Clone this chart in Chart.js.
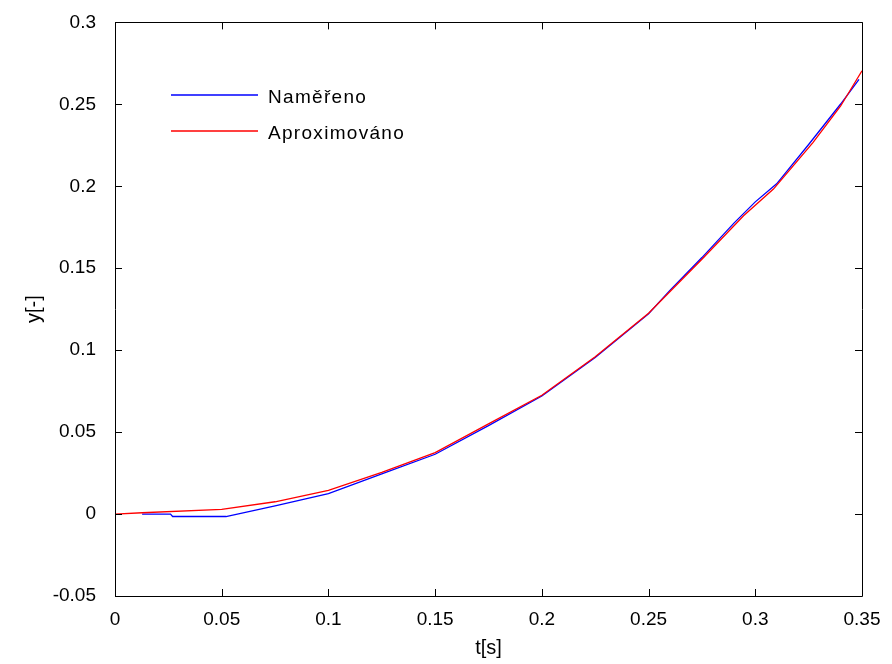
<!DOCTYPE html>
<html>
<head>
<meta charset="utf-8">
<script src="https://cdn.jsdelivr.net/npm/chart.js@4"></script>
<style>
  html, body { margin: 0; padding: 0; background: #fff; }
  #wrap { width: 892px; height: 664px; }
</style>
</head>
<body>
<div id="wrap"><canvas id="c" width="892" height="664"></canvas></div>
<script>
// measured response (blue)
const tMeas = [0.0127, 0.026, 0.027, 0.052, 0.075, 0.1, 0.125, 0.15, 0.175, 0.2, 0.225, 0.25, 0.26, 0.275, 0.29, 0.3, 0.31, 0.325, 0.34, 0.3486];
const yMeas = [0, 0, -0.0015, -0.0015, 0.005, 0.0125, 0.0245, 0.0365, 0.054, 0.072, 0.0955, 0.1222, 0.1365, 0.1565, 0.1775, 0.1905, 0.2015, 0.2255, 0.2502, 0.2652];

// approximation (red)
const tApprox = [0, 0.0127, 0.05, 0.075, 0.1, 0.125, 0.15, 0.175, 0.2, 0.225, 0.25, 0.275, 0.2945, 0.3085, 0.327, 0.34, 0.35];
const yApprox = [0, 0.0008, 0.0028, 0.0075, 0.0145, 0.0255, 0.0375, 0.055, 0.0725, 0.096, 0.1225, 0.1555, 0.182, 0.1983, 0.2266, 0.249, 0.2705];

const xTicks = [0, 0.05, 0.1, 0.15, 0.2, 0.25, 0.3, 0.35];
const yTicks = [-0.05, 0, 0.05, 0.1, 0.15, 0.2, 0.25, 0.3];

const seriesNames = ['Naměřeno', 'Aproximováno'];
const seriesColors = ['#0000ff', '#ff0000'];

const fmt = v => String(Number(v.toFixed(3)));
const toPts = (xs, ys) => xs.map((x, i) => ({ x, y: ys[i] }));

// MATLAB style box with inward ticks and legend inside the axes
const boxPlugin = {
  id: 'box',
  afterDatasetsDraw(chart) {
    const { ctx, chartArea: a, scales } = chart;
    ctx.save();
    ctx.strokeStyle = '#000';
    ctx.lineWidth = 1;
    ctx.beginPath();
    ctx.rect(Math.round(a.left) + 0.5, Math.round(a.top) + 0.5, Math.round(a.right - a.left), Math.round(a.bottom - a.top));
    const len = 7;
    xTicks.forEach(v => {
      const px = Math.round(scales.x.getPixelForValue(v)) + 0.5;
      ctx.moveTo(px, a.bottom); ctx.lineTo(px, a.bottom - len);
      ctx.moveTo(px, a.top); ctx.lineTo(px, a.top + len);
    });
    yTicks.forEach(v => {
      const py = Math.round(scales.y.getPixelForValue(v)) + 0.5;
      ctx.moveTo(a.left, py); ctx.lineTo(a.left + len, py);
      ctx.moveTo(a.right, py); ctx.lineTo(a.right - len, py);
    });
    ctx.stroke();

    // legend
    ctx.font = '19px "Liberation Sans", Arial, sans-serif';
    ctx.letterSpacing = '1.3px';
    ctx.textBaseline = 'middle';
    ctx.fillStyle = '#000';
    [95, 131].forEach((y, i) => {
      ctx.strokeStyle = seriesColors[i];
      ctx.lineWidth = 1.3;
      ctx.beginPath();
      ctx.moveTo(171, y); ctx.lineTo(258, y);
      ctx.stroke();
      ctx.fillText(seriesNames[i], 268, y + 3);
    });
    ctx.restore();
  }
};

new Chart(document.getElementById('c'), {
  type: 'line',
  data: {
    datasets: [
      { label: seriesNames[1], data: toPts(tApprox, yApprox), borderColor: seriesColors[1], borderWidth: 1.3, pointRadius: 0, fill: false, tension: 0, order: 0 },
      { label: seriesNames[0], data: toPts(tMeas, yMeas), borderColor: seriesColors[0], borderWidth: 1.3, pointRadius: 0, fill: false, tension: 0, order: 1 }
    ]
  },
  options: {
    responsive: false,
    animation: false,
    layout: { padding: { top: 19, right: 30, left: 0, bottom: 0 } },
    plugins: { legend: { display: false }, tooltip: { enabled: false } },
    scales: {
      x: {
        type: 'linear', min: 0, max: 0.35,
        afterBuildTicks: s => { s.ticks = xTicks.map(v => ({ value: v })); },
        afterFit: s => { s.height = 68; },
        grid: { display: false },
        border: { display: false },
        ticks: { color: '#000', padding: 4, maxRotation: 0, autoSkip: false, font: { family: '"Liberation Sans", Arial, sans-serif', size: 19 }, callback: v => fmt(v) },
        title: { display: true, text: 't[s]', color: '#000', padding: { top: 0, bottom: 4 }, font: { family: '"Liberation Sans", Arial, sans-serif', size: 20 } }
      },
      y: {
        type: 'linear', min: -0.05, max: 0.3,
        afterBuildTicks: s => { s.ticks = yTicks.map(v => ({ value: v })); },
        afterFit: s => { s.width = 115; },
        grid: { display: false },
        border: { display: false },
        ticks: { color: '#000', padding: 11, autoSkip: false, font: { family: '"Liberation Sans", Arial, sans-serif', size: 19 }, callback: v => fmt(v) },
        title: { display: true, text: 'y[-]', color: '#000', padding: { top: 22, bottom: 0 }, font: { family: '"Liberation Sans", Arial, sans-serif', size: 20 } }
      }
    }
  },
  plugins: [boxPlugin]
});
</script>
</body>
</html>
